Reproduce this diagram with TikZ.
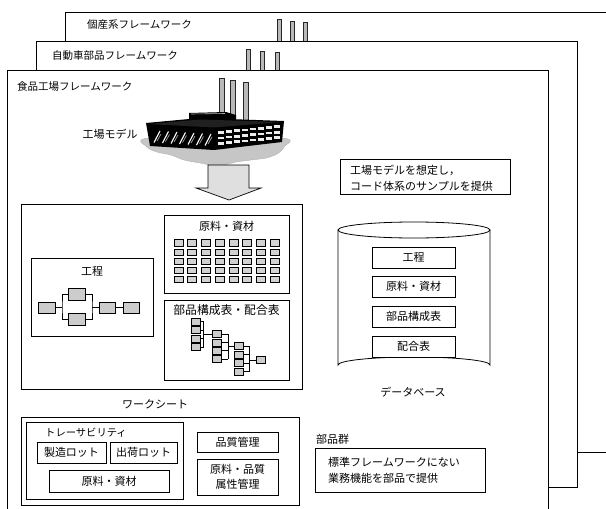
\documentclass[tikz,border=0pt]{standalone}
\usepackage{fontspec}
\setmainfont{Noto Sans CJK JP}
\usetikzlibrary{calc}
\begin{document}
\begin{tikzpicture}[x=1pt,y=-1pt,
  frame/.style={draw=black, line width=0.9pt, fill=white, inner sep=0, outer sep=0, anchor=north west},
  box/.style={draw=black, line width=0.8pt, fill=white, inner sep=0, outer sep=0},
  gbox/.style={draw=black, line width=0.8pt, fill=gray!40, inner sep=0, outer sep=0},
  icon/.style={draw=black, line width=0.6pt, fill=gray!35, inner sep=0, outer sep=0, minimum width=9pt, minimum height=6.5pt},
  tbox/.style={draw=black, line width=0.6pt, fill=gray!40, inner sep=0, outer sep=0, minimum width=9pt, minimum height=7pt},
  txt/.style={inner sep=0, font=\fontsize{11}{14}\selectfont},
  ttl/.style={inner sep=0, anchor=west, font=\fontsize{10.5}{13}\selectfont},
  stack/.style={fill=gray!55, draw=gray!30!black, line width=0.4pt},
  wire/.style={draw=black, line width=0.7pt}]
\useasboundingbox (0,0) rectangle (606,509);
\clip (0,0) rectangle (606,509);

% back frame
\node[frame, minimum width=580pt, minimum height=440pt] (f3) at (65,12) {};
\node[ttl] (t3) at (87,25) {個産系フレームワーク};
\foreach \x/\t in {279/19,292/21,305/22} \filldraw[stack] (\x-2.3,\t) rectangle (\x+2.3,41);

% middle frame
\node[frame, minimum width=541pt, minimum height=446pt] (f2) at (36,41) {};
\node[ttl] (t2) at (52,56) {自動車部品フレームワーク};
\foreach \x/\t in {248/49,262/51,277/52} \filldraw[stack] (\x-2.3,\t) rectangle (\x+2.3,70);

% front frame
\node[frame, minimum width=541pt, minimum height=470pt] (f1) at (7,70) {};
\node[ttl] (t1) at (17,87) {食品工場フレームワーク};

% factory model
\filldraw[fill=gray!45, draw=gray!60] plot[smooth cycle] coordinates {(150,138) (147,147) (157,152) (171,155) (184,160) (200,163) (218,166) (236,162) (251,160) (266,158) (277,154) (284,147) (281,138)};
\foreach \x/\t in {222/78,233/80,246/82} \filldraw[stack] (\x-2.4,\t) rectangle (\x+2.4,120);
\fill[black] (189,113) -- (226,112) -- (236,115) -- (236,122) -- (189,122) -- cycle;
\draw[gray!60, line width=0.6pt] (191,114) -- (225,113.5);
\fill[black] (146,123) -- (200,118) -- (284,121) -- (282,142) -- (214,150) -- (150,146) -- cycle;
\fill[gray!25!black] (148,124) -- (200,119.5) -- (281,122) -- (214,127.5) -- cycle;
\foreach \i in {0,...,6} {
  \draw[white, line width=1.1pt] (154+8.5*\i,142.5+0.5*\i) -- (160+8.5*\i,131+0.5*\i);
  \draw[gray!70, line width=0.7pt] (157+8.5*\i,141+0.5*\i) -- (161+8.5*\i,134+0.5*\i);
}
\foreach \j in {0,...,7} \foreach \r in {0,1,2}
  \fill[gray!15] (218+8*\j, 131+5.5*\r-0.1*8*\j) rectangle ++(5.5,2.6);
\node[txt] (fm) at (110,134) {工場モデル};

% arrow down to worksheet
\filldraw[fill=gray!25, draw=black, line width=0.7pt]
  (208,165) -- (249,165) -- (249,188) -- (261,188) -- (229,200) -- (196,188) -- (208,188) -- cycle;

% worksheet
\node[frame, minimum width=281pt, minimum height=185pt] (ws) at (21,204) {};
\node[txt] (wsl) at (155,404) {ワークシート};

% process
\node[box, anchor=north west, minimum width=122pt, minimum height=78pt] (proc) at (31,258) {};
\node[txt] (procl) at (92,271) {工程};
\node[gbox, minimum width=17pt, minimum height=11pt] (p1) at (46.5,307.5) {};
\node[gbox, minimum width=17pt, minimum height=12pt] (p2) at (76.5,294) {};
\node[gbox, minimum width=17pt, minimum height=12pt] (p3) at (76.5,319) {};
\node[gbox, minimum width=16pt, minimum height=11pt] (p4) at (107,307.5) {};
\node[gbox, minimum width=16pt, minimum height=11pt] (p5) at (131,307.5) {};
\coordinate (j1) at (62,307.5);
\coordinate (j2) at (92,307.5);
\draw[wire] (p1.east) -- (j1);
\draw[wire] (p2.west) -| (j1) |- (p3.west);
\draw[wire] (p2.east) -| (j2) |- (p3.east);
\draw[wire] (j2) -- (p4.west);
\draw[wire] (p4.east) -- (p5.west);

% raw materials grid
\node[box, anchor=north west, minimum width=125pt, minimum height=78pt] (mat) at (164,215) {};
\node[txt] (matl) at (226.5,226) {原料・資材};
\foreach \i in {0,...,7} \foreach \r in {0,...,4}
  \node[icon] (m\i\r) at (178.5+13.7*\i, 243+9.1*\r) {};

% bill of materials tree
\node[box, anchor=north west, minimum width=125pt, minimum height=80pt] (bom) at (164,300) {};
\node[txt, font=\fontsize{11.8}{14}\selectfont] (boml) at (226.5,310) {部品構成表・配合表};
\foreach \k in {0,...,3} {
  \node[tbox] (a\k) at (195.5,321.5+8.5*\k) {};
  \node[tbox] (b\k) at (216.5,334+8.4*\k) {};
  \node[tbox] (c\k) at (239,346+8.6*\k) {};
}
\node[tbox] (d0) at (261,360) {};
\coordinate (ba) at (203.5,0);
\coordinate (bb) at (228,0);
\coordinate (bc) at (249.5,0);
\foreach \k in {0,...,3} {
  \draw[wire] (a\k.east) -- (a\k.east -| ba);
  \draw[wire] (b\k.east) -- (b\k.east -| bb);
  \draw[wire] (c\k.east) -- (c\k.east -| bc);
}
\draw[wire] (a0.east -| ba) -- (a3.east -| ba);
\draw[wire] (b0.east -| bb) -- (b3.east -| bb);
\draw[wire] (c0.east -| bc) -- (c3.east -| bc);
\draw[wire] (b0.west -| ba) -- (b0.west);
\draw[wire] (c0.west -| bb) -- (c0.west);
\draw[wire] (d0.west -| bc) -- (d0.west);

% database
\filldraw[fill=white, draw=black, line width=0.8pt]
  (338,230) -- (338,365) arc[start angle=180, end angle=360, x radius=76, y radius=8] -- (490,230);
\draw[black, line width=0.8pt] (414,230) ellipse[x radius=76, y radius=8];
\foreach \n/\y/\s in {d1/257.5/工程, d2/286.5/原料・資材, d3/316.5/部品構成表, d4/346.5/配合表}
  \node[box, minimum width=83pt, minimum height=21pt, txt] (\n) at (413.5,\y) {\s};
\node[txt] (dbl) at (413,392) {データベース};

% note on the model
\node[box, anchor=north west, minimum width=170pt, minimum height=35pt] (note) at (340,159) {};
\node[txt, anchor=west, align=left, font=\fontsize{11}{16}\selectfont] (notet) at (350,178) {工場モデルを想定し，\\コード体系のサンプルを提供};

% parts
\node[frame, minimum width=278pt, minimum height=88pt] (pg) at (21,417) {};
\node[box, anchor=north west, minimum width=157pt, minimum height=77pt] (tr) at (26,422) {};
\node[txt, font=\fontsize{10.3}{13}\selectfont] (trl) at (86,433) {トレーサビリティ};
\node[box, anchor=north west, minimum width=69pt, minimum height=21pt] (lot1) at (37,442) {};
\node[txt] at (lot1) {製造ロット};
\node[box, anchor=north west, minimum width=67pt, minimum height=21pt] (lot2) at (110,442) {};
\node[txt] at (lot2) {出荷ロット};
\node[box, anchor=north west, minimum width=120pt, minimum height=22pt] (trm) at (49,470) {};
\node[txt] at (trm) {原料・資材};
\node[box, anchor=north west, minimum width=81pt, minimum height=20pt] (qm) at (197,432) {};
\node[txt] at (qm) {品質管理};
\node[box, anchor=north west, minimum width=81pt, minimum height=36pt] (qa) at (197,459) {};
\node[txt, align=center, font=\fontsize{11}{15}\selectfont] at (qa) {原料・品質\\属性管理};

\node[txt, anchor=west] (pgl) at (316,439) {部品群};
\node[box, anchor=north west, minimum width=170pt, minimum height=44pt] (pn) at (315,448) {};
\node[txt, anchor=west, align=left, font=\fontsize{11}{16}\selectfont] (pnt) at (328,470) {標準フレームワークにない\\業務機能を部品で提供};
\end{tikzpicture}
\end{document}
